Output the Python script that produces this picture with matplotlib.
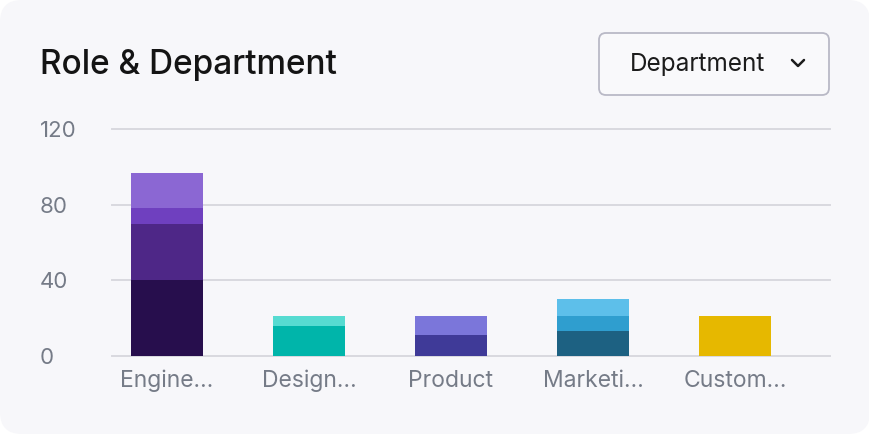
import matplotlib
matplotlib.use("Agg")
import matplotlib.pyplot as plt
from matplotlib.patches import FancyBboxPatch
from matplotlib.lines import Line2D

plt.rcParams['font.family'] = ['Inter', 'DejaVu Sans']

# data
categories = ['Engine…', 'Design…', 'Product', 'Marketi…', 'Custom…']
layer1 = [40, 16, 11, 13, 21]
layer2 = [30, 5, 10, 8, 0]
layer3 = [8, 0, 0, 9, 0]
layer4 = [19, 0, 0, 0, 0]
y_ticks = [0, 40, 80, 120]

layer_colors = [
    ['#270e4d', '#00b5aa', '#3f3a98', '#1d6182', '#e6b800'],
    ['#4e2787', '#56dbd1', '#7b76da', '#2f9ecf', '#e6b800'],
    ['#6f40bf', '#56dbd1', '#7b76da', '#5dbfea', '#e6b800'],
    ['#8b67d3', '#56dbd1', '#7b76da', '#5dbfea', '#e6b800'],
]

W, H = 870, 434
fig = plt.figure(figsize=(W / 100, H / 100), dpi=100)
fig.patch.set_facecolor('white')

# card background
card = FancyBboxPatch((0, 0), 1, 1, boxstyle="round,pad=0,rounding_size=0.025",
                      transform=fig.transFigure, facecolor='#f7f7fa',
                      edgecolor='none', mutation_aspect=W / H, zorder=-10)
fig.patches.append(card)

ax = fig.add_axes([112 / W, (H - 356) / H, (830 - 112) / W, (356 - 129) / H])
ax.set_facecolor('none')
ax.set_zorder(2)

x = list(range(len(categories)))
bottom = [0] * len(categories)
for vals, cols in zip([layer1, layer2, layer3, layer4], layer_colors):
    ax.bar(x, vals, width=0.507, bottom=bottom, color=cols, zorder=3)
    bottom = [b + v for b, v in zip(bottom, vals)]

ax.set_xlim(-0.387, 4.67)
ax.set_ylim(0, 120)
ax.set_yticks(y_ticks)
ax.set_xticks(x)
ax.set_xticklabels(categories)
for s in ax.spines.values():
    s.set_visible(False)
ax.grid(True, axis='y', color='#d9d9df', linewidth=1.4, zorder=0)
for gl in ax.get_ygridlines():
    gl.set_clip_on(False)
ax.tick_params(axis='y', length=0, pad=52, labelsize=16, labelcolor='#757b87')
ax.tick_params(axis='x', length=0, pad=10, labelsize=16.5, labelcolor='#757b87')
for lab in ax.get_yticklabels():
    lab.set_ha('left')

# title
fig.text(40 / W, 1 - 65 / H, 'Role & Department', fontsize=24, fontweight='medium',
         color='#141414', ha='left', va='center')

# dropdown
box = FancyBboxPatch((599 / W, 1 - 95 / H), 230 / W, 62 / H,
                     boxstyle="round,pad=0,rounding_size=0.008",
                     transform=fig.transFigure, facecolor='#f9f9fb',
                     edgecolor='#b9b9c6', linewidth=1.3, mutation_aspect=W / H)
fig.patches.append(box)
fig.text(698 / W, 1 - 64 / H, 'Department', fontsize=17.5, color='#1c1c1c',
         ha='center', va='center')
fig.lines.append(Line2D([792 / W, 798 / W, 804 / W],
                        [1 - 60 / H, 1 - 66 / H, 1 - 60 / H],
                        transform=fig.transFigure, color='#1c1c1c', linewidth=1.8,
                        solid_capstyle='round', solid_joinstyle='round'))

fig.savefig('out.png', dpi=100, facecolor=fig.get_facecolor())
